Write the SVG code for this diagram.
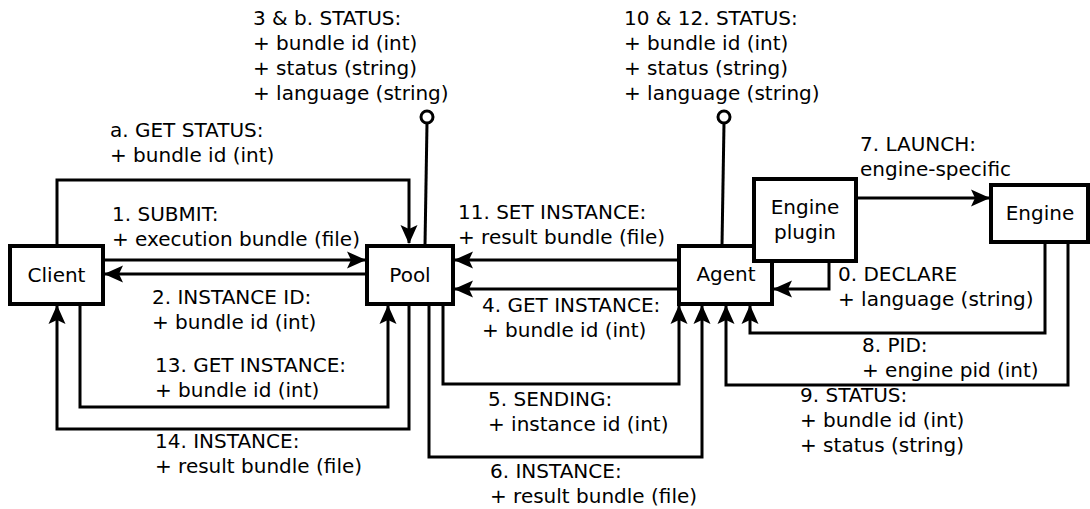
<svg xmlns="http://www.w3.org/2000/svg" width="1090" height="509" viewBox="0 0 1090 509">
<style>
text{font-family:"DejaVu Sans","Liberation Sans",sans-serif;font-size:20px;fill:#000}
.box{fill:#fff;stroke:#000;stroke-width:4}
.c{fill:none;stroke:#000;stroke-width:3}
.a{marker-end:url(#ah)}
.lol{fill:#fff;stroke:#000;stroke-width:3}
.mid{text-anchor:middle}
</style>
<defs>
<marker id="ah" markerUnits="userSpaceOnUse" markerWidth="24" markerHeight="20" viewBox="-21 -10 24 20" refX="0" refY="0" orient="auto">
<path d="M1,0 L-18,-8.5 L-14,0 L-18,8.5 Z" fill="#000"/>
</marker>
</defs>
<rect width="1090" height="509" fill="#fff"/>
<g id="connectors">
<path class="c a" d="M57,244 V180 H409 V243"/>
<path class="c a" d="M105,260 H365"/>
<path class="c a" d="M367,274 H105"/>
<path class="c a" d="M80,306 V407 H388 V306"/>
<path class="c a" d="M409,306 V429 H57 V306"/>
<path class="c" d="M425,245 L427,123"/>
<circle class="lol" cx="427" cy="117" r="6"/>
<path class="c a" d="M679,260 H455"/>
<path class="c a" d="M679,289 H455"/>
<path class="c a" d="M443,306 V384 H679 V306"/>
<path class="c a" d="M429,306 V457 H702 V306"/>
<path class="c" d="M722,245 L724,123"/>
<circle class="lol" cx="724" cy="117" r="6"/>
<path class="c a" d="M829,262 V289 H774"/>
<path class="c a" d="M858,198 H989"/>
<path class="c a" d="M1045,244 V333 H750 V306"/>
<path class="c a" d="M1068,244 V385 H726 V306"/>
</g>
<g id="client"><rect class="box" x="10" y="246" width="93" height="58"/><text class="mid" x="56.5" y="282">Client</text></g>
<g id="pool"><rect class="box" x="367" y="246" width="86" height="58"/><text class="mid" x="410" y="282">Pool</text></g>
<g id="agent"><rect class="box" x="679" y="246" width="93" height="58"/><text class="mid" x="726" y="281">Agent</text></g>
<g id="engine-plugin"><rect class="box" x="754" y="179" width="102" height="82"/><text class="mid" x="805" y="214">Engine</text><text class="mid" x="805" y="239">plugin</text></g>
<g id="engine"><rect class="box" x="991" y="185" width="97" height="57"/><text class="mid" x="1040" y="220">Engine</text></g>
<g id="labels">
<text x="253" y="25">3 &amp; b. STATUS:</text><text x="253" y="50">+ bundle id (int)</text><text x="253" y="75">+ status (string)</text><text x="253" y="100">+ language (string)</text>
<text x="624" y="25">10 &amp; 12. STATUS:</text><text x="624" y="50">+ bundle id (int)</text><text x="624" y="75">+ status (string)</text><text x="624" y="100">+ language (string)</text>
<text x="110" y="137">a. GET STATUS:</text><text x="110" y="162">+ bundle id (int)</text>
<text x="112" y="221">1. SUBMIT:</text><text x="112" y="246">+ execution bundle (file)</text>
<text x="152" y="304">2. INSTANCE ID:</text><text x="152" y="329">+ bundle id (int)</text>
<text x="155" y="372">13. GET INSTANCE:</text><text x="155" y="397">+ bundle id (int)</text>
<text x="155" y="448">14. INSTANCE:</text><text x="155" y="473">+ result bundle (file)</text>
<text x="458" y="219">11. SET INSTANCE:</text><text x="458" y="244">+ result bundle (file)</text>
<text x="482" y="312">4. GET INSTANCE:</text><text x="482" y="337">+ bundle id (int)</text>
<text x="488" y="406">5. SENDING:</text><text x="488" y="431">+ instance id (int)</text>
<text x="490" y="478">6. INSTANCE:</text><text x="490" y="503">+ result bundle (file)</text>
<text x="838" y="281">0. DECLARE</text><text x="838" y="306">+ language (string)</text>
<text x="862" y="352">8. PID:</text><text x="862" y="377">+ engine pid (int)</text>
<text x="800" y="402">9. STATUS:</text><text x="800" y="427">+ bundle id (int)</text><text x="800" y="452">+ status (string)</text>
<text x="860" y="151">7. LAUNCH:</text><text x="860" y="176">engine-specific</text>
</g>
</svg>
